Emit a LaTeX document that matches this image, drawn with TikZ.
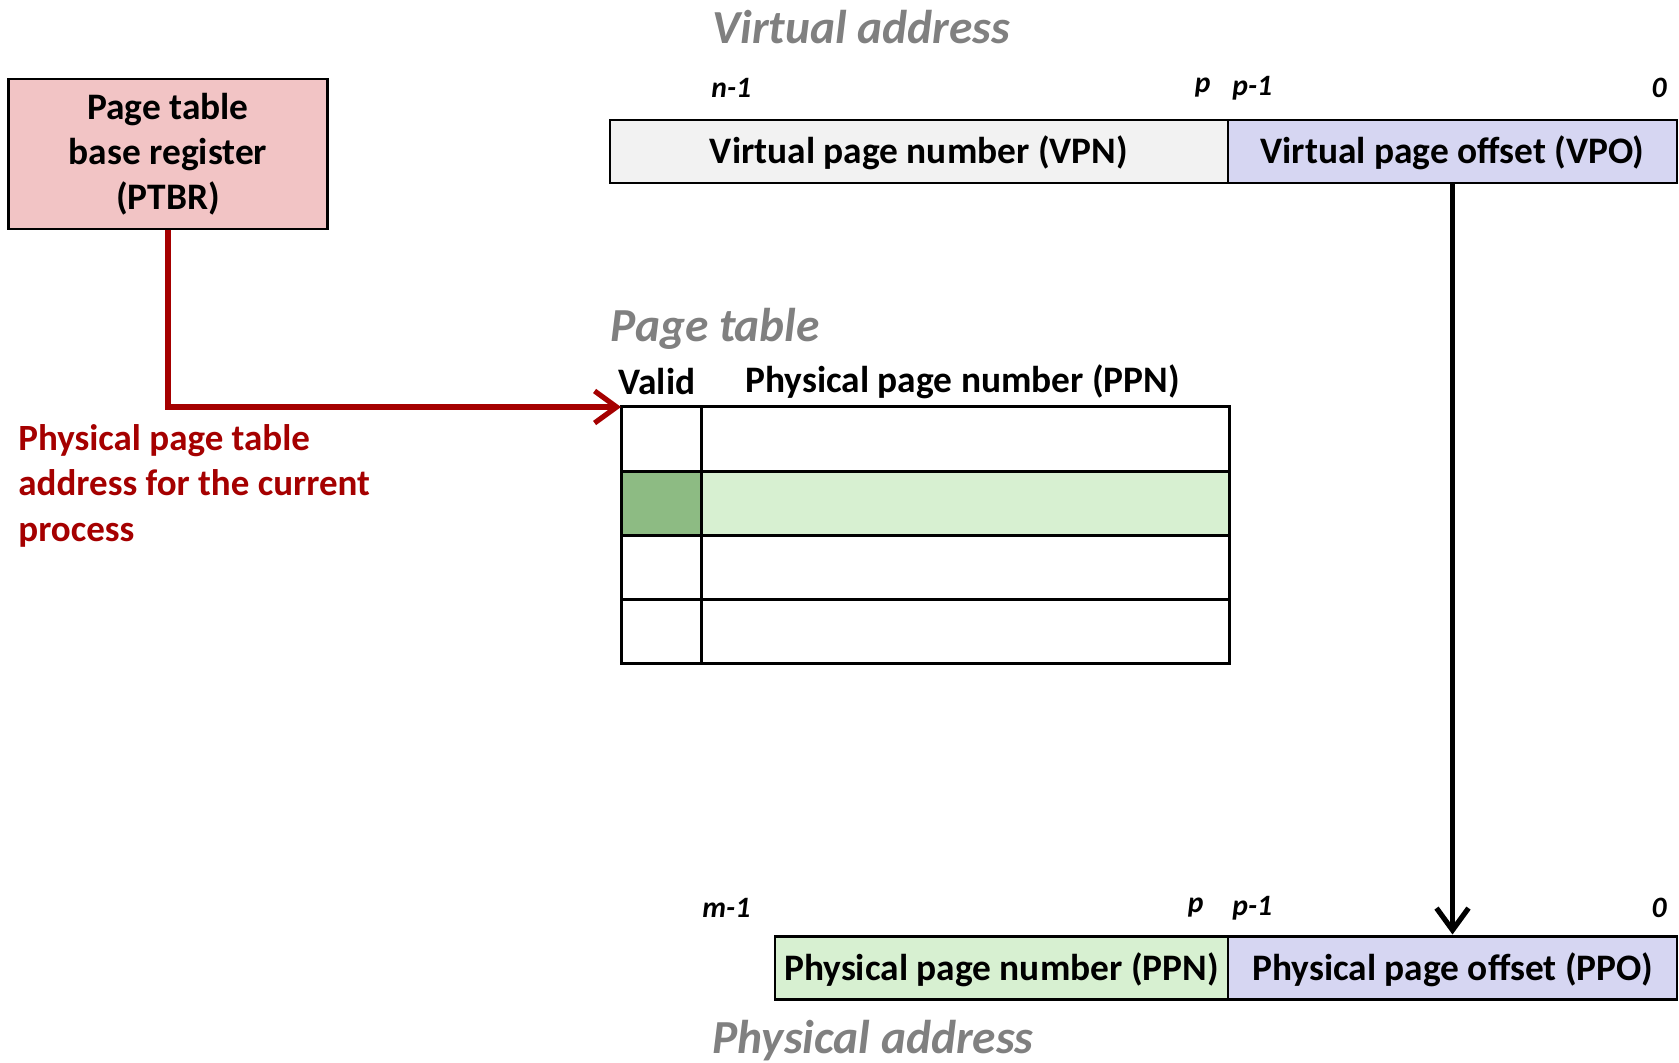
\documentclass[tikz,border=0pt]{standalone}
\usepackage{fontspec}
\setmainfont{Carlito}
\usepackage{tikz}
\usetikzlibrary{positioning,arrows.meta}
\definecolor{ptbrpink}{RGB}{242,196,197}
\definecolor{vpngray}{RGB}{242,242,242}
\definecolor{offblue}{RGB}{214,214,242}
\definecolor{ppngreen}{RGB}{215,240,209}
\definecolor{validgreen}{RGB}{141,187,131}
\definecolor{ptrred}{RGB}{165,0,0}
\definecolor{titlegray}{RGB}{128,128,128}
\newcommand{\boxfont}{\fontsize{18.7}{22.5}\selectfont\bfseries}
\tikzset{
  regbox/.style={draw, line width=1.2pt, fill=ptbrpink, align=center, minimum width=159.5pt, minimum height=75pt, inner sep=0pt, font=\boxfont},
  field/.style={draw, line width=1.2pt, minimum height=31.5pt, inner sep=0pt, outer sep=0pt, text height=17.2pt, text depth=4.7pt, font=\boxfont},
  cell/.style={draw, line width=1.5pt, minimum height=32pt, inner sep=0pt, outer sep=0pt},
  title/.style={anchor=west, inner sep=0pt, text=titlegray, font=\fontsize{23.7}{28}\selectfont\bfseries\itshape},
  bitlbl/.style={inner sep=0pt, font=\fontsize{14.8}{17}\selectfont\bfseries\itshape},
  colhead/.style={anchor=west, inner sep=0pt, font=\boxfont},
  ptr/.style={draw=ptrred, line width=2.6pt, -{Straight Barb[length=11pt,width=16pt,line width=2.6pt]}},
  copyarrow/.style={line width=2.6pt, -{Straight Barb[length=11pt,width=16pt,line width=2.6pt]}},
}
\begin{document}
\begin{tikzpicture}[x=0.5pt,y=-0.5pt]
\useasboundingbox (0,0) rectangle (1679,1063);
%Register
\node[regbox] (ptbr) at (168,154) {Page table\\base register\\(PTBR)};
\node[anchor=north west, inner sep=0pt, align=left, text=ptrred, font=\fontsize{18.5}{22.75}\selectfont\bfseries] (ptbrnote) at (18,424) {Physical page table\\address for the current\\process};

%Virtual address
\node[title] (vatitle) at (712,27) {Virtual address};
\node[field, fill=vpngray, minimum width=309pt] (vpn) at (919,151.5) {Virtual page number (VPN)};
\node[field, fill=offblue, minimum width=224.5pt, right=0pt of vpn] (vpo) {Virtual page offset (VPO)};
\node[bitlbl, anchor=west] (van) at (711,88) {n-1};
\node[bitlbl, anchor=east] (vap) at (1211,88) {p};
\node[bitlbl, anchor=west] (vapm) at (1232,88) {p-1};
\node[bitlbl, anchor=east] (vazero) at (1667,88) {0};

%Page table
\node[title] (pttitle) at (610,329) {Page table};
\node[colhead] (validhead) at (618,382) {Valid};
\node[colhead] (ppnhead) at (745,382) {Physical page number (PPN)};
\foreach \r/\vf/\pf in {0/white/white,1/validgreen/ppngreen,2/white/white,3/white/white} {
  \node[cell, fill=\vf, minimum width=40pt] (valid\r) at (661,439+64*\r) {};
  \node[cell, fill=\pf, minimum width=264pt, right=0pt of valid\r] (ppn\r) {};
}

%Physical address
\node[field, fill=ppngreen, minimum width=226.5pt] (ppn) at (1001.5,968) {Physical page number (PPN)};
\node[field, fill=offblue, minimum width=224.5pt, right=0pt of ppn] (ppo) {Physical page offset (PPO)};
\node[bitlbl, anchor=west] (pam) at (702,908) {m-1};
\node[bitlbl, anchor=east] (pap) at (1204,908) {p};
\node[bitlbl, anchor=west] (papm) at (1232,908) {p-1};
\node[bitlbl, anchor=east] (pazero) at (1667,908) {0};
\node[title] (patitle) at (712,1041) {Physical address};

%Lines
\draw[ptr] (ptbr.south) |- (valid0.north west);
\draw[copyarrow] (vpo.south) -- ([yshift=1pt]ppo.north);
\end{tikzpicture}
\end{document}
